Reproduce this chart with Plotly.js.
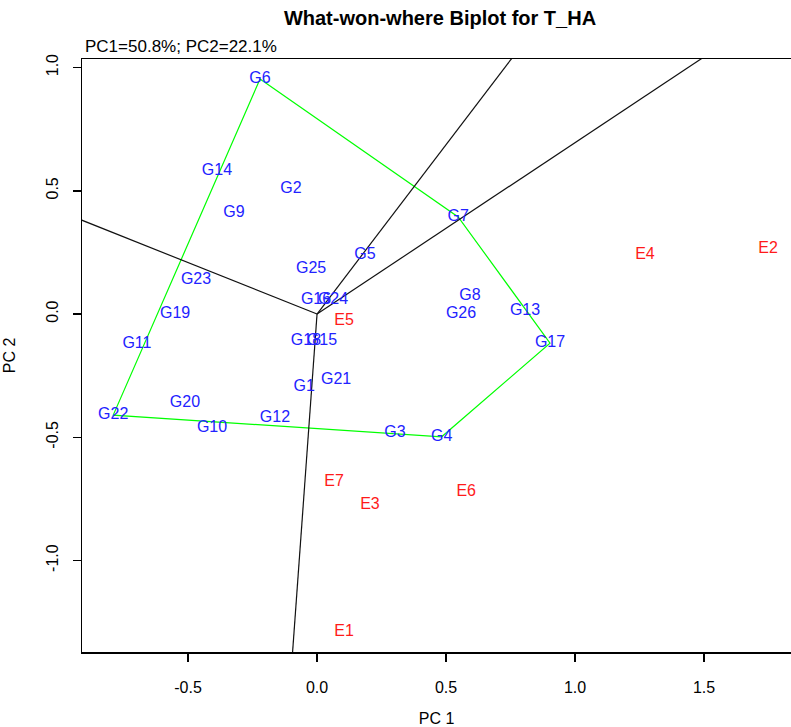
<!DOCTYPE html>
<html>
<head>
<meta charset="utf-8">
<script src="https://cdn.plot.ly/plotly-3.0.1.min.js"></script>
<style>html,body{margin:0;padding:0;background:#fff;}#chart{width:791px;height:727px;}</style>
</head>
<body>
<div id="chart"></div>
<script>
// Genotype scores (PC1, PC2)
const genotypes = ['G1','G2','G3','G4','G5','G6','G7','G8','G9','G10','G11','G12','G13',
                   'G14','G15','G16','G17','G18','G19','G20','G21','G22','G23','G24','G25','G26'];
const genoPC1 = [-0.050,-0.101,0.302,0.483,0.186,-0.221,0.547,0.593,-0.322,-0.407,-0.698,-0.163,0.806,
                 -0.388,0.019,-0.004,0.903,-0.043,-0.550,-0.512,0.074,-0.790,-0.469,0.062,-0.023,0.558];
const genoPC2 = [-0.296,0.507,-0.483,-0.498,0.239,0.953,0.394,0.073,0.410,-0.462,-0.122,-0.422,0.012,
                 0.580,-0.110,0.057,-0.118,-0.110,0.000,-0.361,-0.268,-0.410,0.138,0.057,0.183,0.000];

// Environment scores (PC1, PC2)
const environments = ['E1','E2','E3','E4','E5','E6','E7'];
const envPC1 = [0.105,1.748,0.205,1.271,0.105,0.578,0.066];
const envPC2 = [-1.290,0.264,-0.775,0.239,-0.028,-0.722,-0.682];

// Convex hull vertices (polygon order) and sides that get a perpendicular ray
const hullOrder = ['G6','G7','G17','G4','G22','G6'];
const raySides = [['G6','G7'],['G7','G17'],['G4','G22'],['G22','G6']];

// Axis ticks
const xTickVals = [-0.5,0,0.5,1,1.5];
const xTickText = ['-0.5','0.0','0.5','1.0','1.5'];
const yTickVals = [-1,-0.5,0,0.5,1];
const yTickText = ['-1.0','-0.5','0.0','0.5','1.0'];

const pcLabel = 'PC1=50.8%; PC2=22.1%';
const titleText = 'What-won-where Biplot for T_HA';

const idx = n => genotypes.indexOf(n);
const font = 'Arial, "Liberation Sans", sans-serif';

const traces = [];

// hull
traces.push({
  x: hullOrder.map(n => genoPC1[idx(n)]),
  y: hullOrder.map(n => genoPC2[idx(n)]),
  mode: 'lines', type: 'scatter',
  line: {color: '#00ff00', width: 1.2},
  hoverinfo: 'skip'
});

// rays perpendicular to hull sides from origin
raySides.forEach(([a, b]) => {
  const ax = genoPC1[idx(a)], ay = genoPC2[idx(a)];
  const bx = genoPC1[idx(b)], by = genoPC2[idx(b)];
  const dx = bx - ax, dy = by - ay;
  const t = -(ax * dx + ay * dy) / (dx * dx + dy * dy);
  const px = ax + t * dx, py = ay + t * dy;
  const len = Math.sqrt(px * px + py * py);
  const k = 6 / len;
  traces.push({
    x: [0, px * k], y: [0, py * k],
    mode: 'lines', type: 'scatter',
    line: {color: '#111111', width: 1.2},
    hoverinfo: 'skip'
  });
});

// genotype labels
traces.push({
  x: genoPC1, y: genoPC2, text: genotypes,
  mode: 'text', type: 'scatter', textposition: 'middle center',
  textfont: {family: font, size: 16, color: '#2222ff'},
  cliponaxis: false, hoverinfo: 'skip'
});

// environment labels
traces.push({
  x: envPC1, y: envPC2, text: environments,
  mode: 'text', type: 'scatter', textposition: 'middle center',
  textfont: {family: font, size: 16, color: '#ff1a1a'},
  cliponaxis: false, hoverinfo: 'skip'
});

const layout = {
  width: 791, height: 727,
  margin: {l: 82, r: 0, t: 59, b: 75, pad: 0},
  paper_bgcolor: '#fff', plot_bgcolor: '#fff',
  showlegend: false, hovermode: false,
  font: {family: font, color: '#000'},
  title: {
    text: '<b>' + titleText + '</b>',
    font: {family: font, size: 20, color: '#000'},
    x: 440 / 791, xref: 'container', xanchor: 'center',
    y: 1 - 18 / 727, yref: 'container', yanchor: 'middle'
  },
  xaxis: {
    range: [-0.911, 1.837],
    showgrid: false, zeroline: false,
    showline: true, linecolor: '#000', linewidth: 1.5, mirror: true,
    ticks: 'outside', ticklen: 8, tickwidth: 1.5, tickcolor: '#000',
    tickmode: 'array', tickvals: xTickVals, ticktext: xTickText,
    tickfont: {family: font, size: 16, color: '#000'},
    ticklabelstandoff: 12,
    title: {text: 'PC 1', font: {family: font, size: 16, color: '#000'}, standoff: 18}
  },
  yaxis: {
    range: [-1.371, 1.0345],
    showgrid: false, zeroline: false,
    showline: true, linecolor: '#000', linewidth: 1.5, mirror: false,
    ticks: 'outside', ticklen: 8, tickwidth: 1.5, tickcolor: '#000',
    tickmode: 'array', tickvals: yTickVals, ticktext: yTickText,
    tickangle: -90,
    tickfont: {family: font, size: 16, color: '#000'},
    ticklabelstandoff: 8,
    title: {text: 'PC 2', font: {family: font, size: 16, color: '#000'}, standoff: 24}
  },
  annotations: [{
    text: pcLabel, xref: 'paper', yref: 'paper',
    x: 0, y: 1 + 12 / 593, xanchor: 'left', yanchor: 'middle',
    xshift: 1, showarrow: false,
    font: {family: font, size: 17, color: '#000'}
  }]
};

Plotly.newPlot('chart', traces, layout, {displayModeBar: false, staticPlot: true});
</script>
</body>
</html>
